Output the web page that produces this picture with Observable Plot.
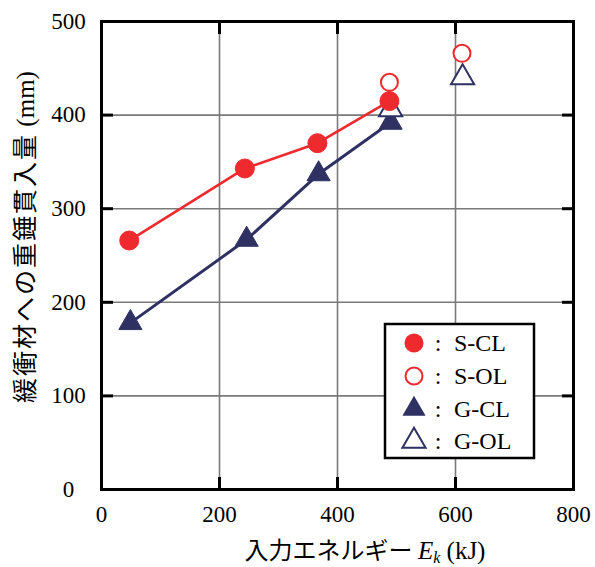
<!DOCTYPE html>
<html>
<head>
<meta charset="utf-8">
<script src="https://cdn.jsdelivr.net/npm/d3@7"></script>
<script src="https://cdn.jsdelivr.net/npm/@observablehq/plot@0.6"></script>
<style>
  html, body { margin: 0; padding: 0; background: #fff; }
  #chart { width: 595px; height: 567px; }
</style>
</head>
<body>
<div id="chart"></div>
<script>
// Data
const sclEnergy = [47, 243, 366, 488];
const sclPen = [266, 343, 370, 415];
const solEnergy = [488, 611];
const solPen = [435, 466];
const gclEnergy = [49, 246, 368, 490];
const gclPen = [178, 267, 337, 392];
const golEnergy = [490, 612];
const golPen = [406, 440];

const xTicks = [0, 200, 400, 600, 800];
const yTicks = [0, 100, 200, 300, 400, 500];

const legendLabels = ["S-CL", "S-OL", "G-CL", "G-OL"];

const RED = "#ee2a2e";
const NAVY = "#2f3163";

const zip = (xs, ys) => xs.map((x, i) => ({x, y: ys[i]}));
const scl = zip(sclEnergy, sclPen);
const sol = zip(solEnergy, solPen);
const gcl = zip(gclEnergy, gclPen);
const gol = zip(golEnergy, golPen);

const serif = "'Liberation Serif', 'Times New Roman', serif";
const cjk = "'Noto Sans CJK JP', 'Noto Sans CJK SC', sans-serif";

const plot = Plot.plot({
  width: 595,
  height: 567,
  marginLeft: 101,
  marginRight: 22,
  marginTop: 21,
  marginBottom: 78,
  style: {background: "#fff", overflow: "visible"},
  x: {domain: [0, 800], ticks: xTicks},
  y: {domain: [0, 500], ticks: yTicks},
  marks: [
    Plot.gridX(xTicks, {stroke: "#7a7a7a", strokeOpacity: 1, strokeWidth: 1.6}),
    Plot.gridY(yTicks, {stroke: "#7a7a7a", strokeOpacity: 1, strokeWidth: 1.6}),
    // inward ticks on all four sides
    Plot.axisX(xTicks, {anchor: "bottom", tickSize: -12, text: null, strokeWidth: 3, label: null}),
    Plot.axisX(xTicks, {anchor: "top", tickSize: -12, text: null, strokeWidth: 3, label: null}),
    Plot.axisY(yTicks, {anchor: "left", tickSize: -12, text: null, strokeWidth: 3, label: null}),
    Plot.axisY(yTicks, {anchor: "right", tickSize: -12, text: null, strokeWidth: 3, label: null}),
    // tick labels
    Plot.axisX(xTicks, {anchor: "bottom", tickSize: 0, tickPadding: 16, label: null, fill: "#000"}),
    Plot.axisY(yTicks, {anchor: "left", tickSize: 0, tickPadding: 33, textAnchor: "middle", label: null, fill: "#000"}),
    Plot.frame({stroke: "#000", strokeWidth: 3}),
    // series G
    Plot.line(gcl, {x: "x", y: "y", stroke: NAVY, strokeWidth: 3}),
    Plot.dot(gcl, {x: "x", y: "y", symbol: "triangle", r: 8.6, fill: NAVY, stroke: NAVY, strokeWidth: 1}),
    Plot.dot(gol, {x: "x", y: "y", symbol: "triangle", r: 8.6, fill: "#fff", stroke: NAVY, strokeWidth: 2}),
    // series S
    Plot.line(scl, {x: "x", y: "y", stroke: RED, strokeWidth: 2.6}),
    Plot.dot(scl, {x: "x", y: "y", symbol: "circle", r: 9.5, fill: RED, stroke: RED, strokeWidth: 1}),
    Plot.dot(sol, {x: "x", y: "y", symbol: "circle", r: 8.5, fill: "#fff", stroke: RED, strokeWidth: 2})
  ]
});

document.getElementById("chart").appendChild(plot);

const svg = d3.select(plot);
// tick label fonts
svg.selectAll("text")
  .style("font-family", serif)
  .style("font-size", "23px")
  .style("fill", "#000");

// X axis label
const xl = svg.append("text")
  .attr("x", 365).attr("y", 559)
  .style("text-anchor", "middle")
  .style("fill", "#000");
xl.append("tspan").style("font-family", cjk).style("font-size", "24px").text("入力エネルギー ");
xl.append("tspan").style("font-family", serif).style("font-size", "25px").style("font-style", "italic").text("E");
xl.append("tspan").style("font-family", serif).style("font-size", "16px").style("font-style", "italic").attr("dy", 4).text("k");
xl.append("tspan").style("font-family", serif).style("font-size", "25px").attr("dy", -4).text(" (kJ)");

// Y axis label
const yl = svg.append("text")
  .attr("transform", "translate(34,237) rotate(-90)")
  .style("text-anchor", "middle")
  .style("fill", "#000");
yl.append("tspan").style("font-family", cjk).style("font-size", "25px").style("letter-spacing", "2px").text("緩衝材への重錘貫入量");
yl.append("tspan").style("font-family", serif).style("font-size", "25px").text(" (mm)");

// Legend
const lg = svg.append("g");
lg.append("rect").attr("x", 385).attr("y", 324).attr("width", 149).attr("height", 134)
  .attr("fill", "#fff").attr("stroke", "#000").attr("stroke-width", 2.5);
const rowY = [343, 376, 409, 441];
const symTri = d3.symbol(d3.symbolTriangle, Math.PI * 8.6 * 8.6)();
const symCirc = (r) => d3.symbol(d3.symbolCircle, Math.PI * r * r)();
legendLabels.forEach((lab, i) => {
  const g = lg.append("g").attr("transform", `translate(414,${rowY[i]})`);
  if (i === 0) g.append("path").attr("d", symCirc(9.5)).attr("fill", RED);
  if (i === 1) g.append("path").attr("d", symCirc(8.5)).attr("fill", "#fff").attr("stroke", RED).attr("stroke-width", 2);
  if (i === 2) g.append("path").attr("d", symTri).attr("fill", NAVY);
  if (i === 3) g.append("path").attr("d", symTri).attr("fill", "#fff").attr("stroke", NAVY).attr("stroke-width", 2);
  lg.append("text").attr("x", 438).attr("y", rowY[i]).attr("dy", "0.35em")
    .style("text-anchor", "middle")
    .style("font-family", serif).style("font-size", "24px").style("fill", "#000").text(":");
  lg.append("text").attr("x", 454).attr("y", rowY[i]).attr("dy", "0.35em")
    .style("text-anchor", "start")
    .style("font-family", serif).style("font-size", "24px").style("fill", "#000").text(lab);
});
</script>
</body>
</html>
